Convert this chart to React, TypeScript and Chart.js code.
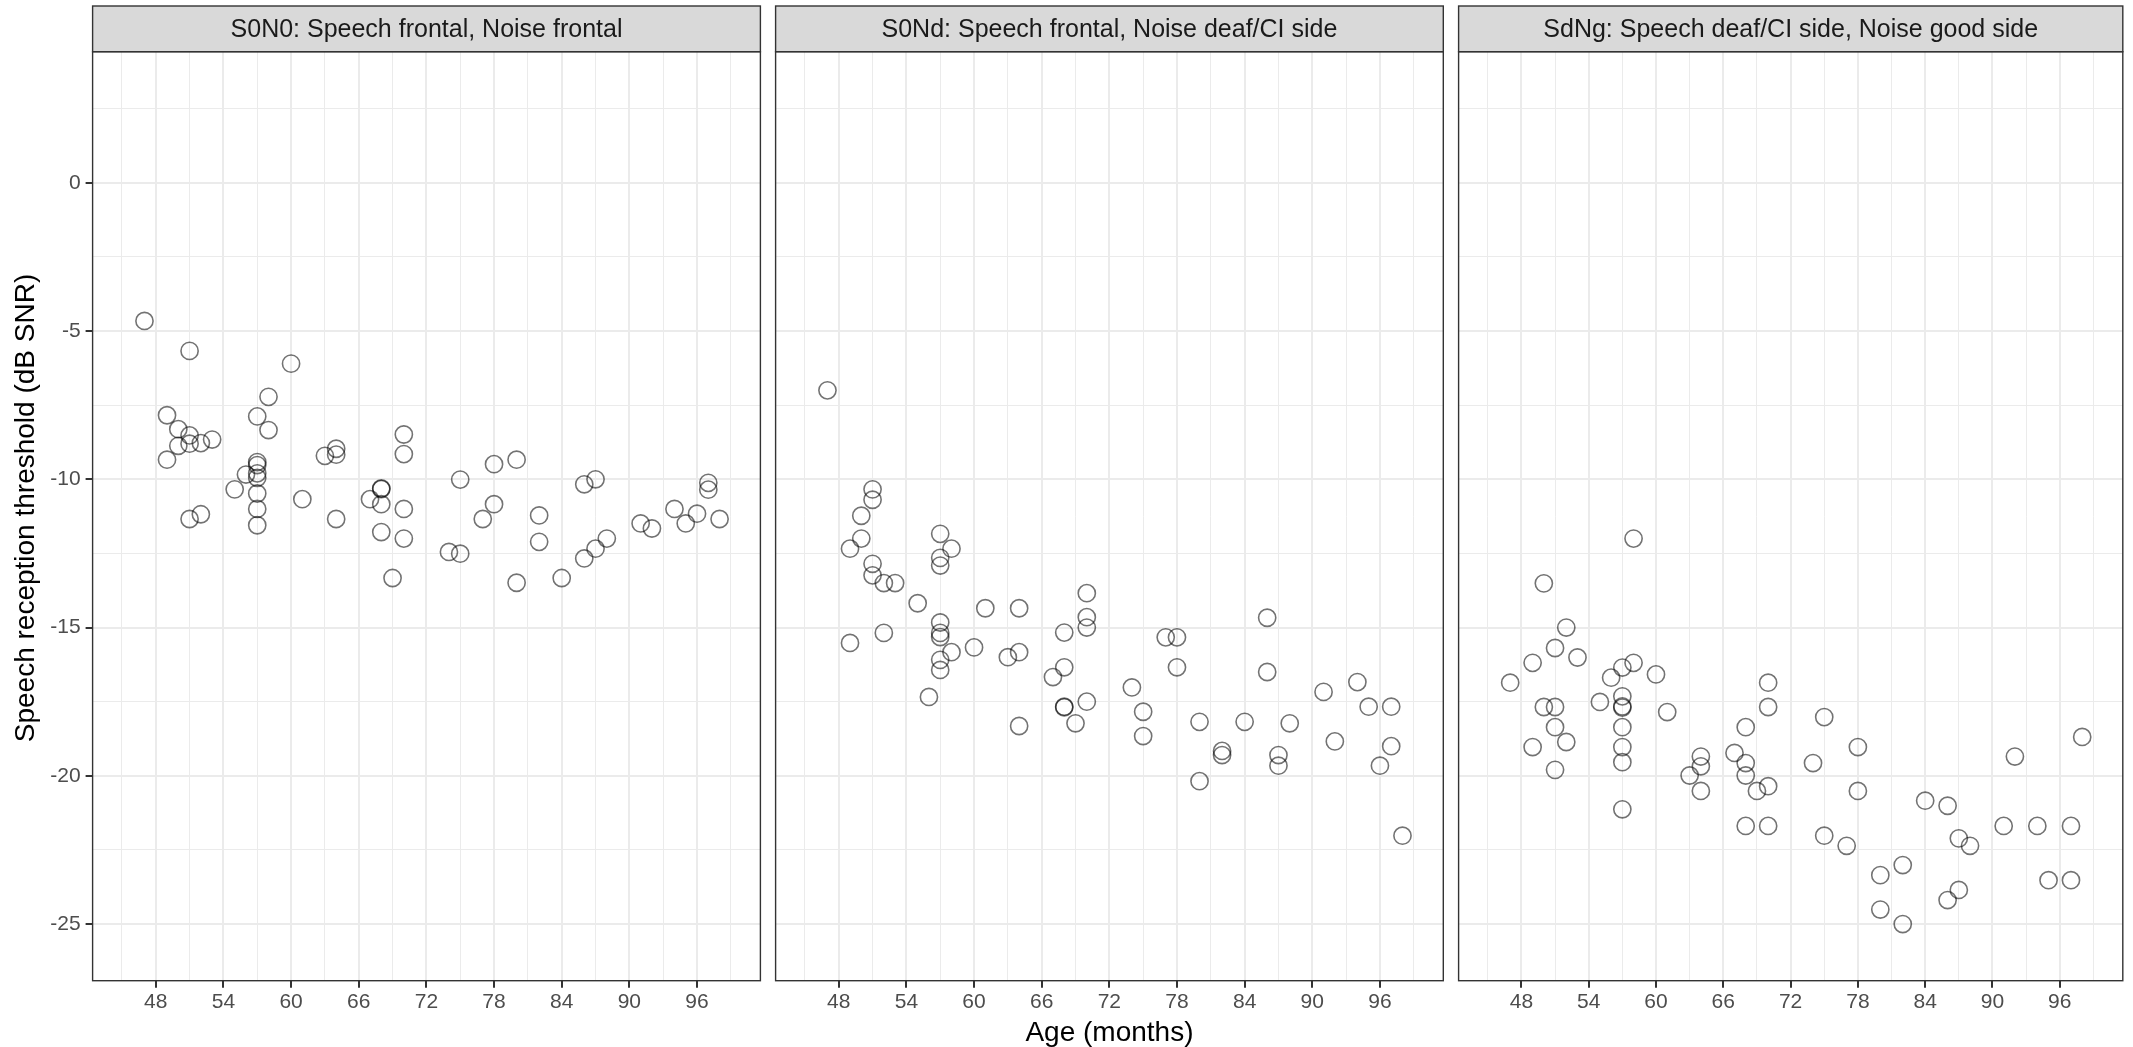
import React, { useEffect, useRef } from 'react';
import { Chart, registerables } from 'chart.js';

Chart.register(...registerables);

// ---------------- data ----------------
const panelTitles = [
  'S0N0: Speech frontal, Noise frontal',
  'S0Nd: Speech frontal, Noise deaf/CI side',
  'SdNg: Speech deaf/CI side, Noise good side',
];

const xMajorTicks = [48, 54, 60, 66, 72, 78, 84, 90, 96];
const xMinorTicks = [45, 51, 57, 63, 69, 75, 81, 87, 93, 99];
const yMajorTicks = [0, -5, -10, -15, -20, -25];
const yMinorTicks = [2.5, -2.5, -7.5, -12.5, -17.5, -22.5];

const xTitle = 'Age (months)';
const yTitle = 'Speech reception threshold (dB SNR)';

// S0N0
const s0n0Age = [
  47, 51, 60, 58, 49, 57, 58, 50, 51, 53, 52, 51, 50, 49, 64, 64, 63, 70, 70, 78,
  80, 57, 57, 57, 57, 57, 57, 57, 56, 55, 75, 86, 87, 97, 97, 68, 68, 67, 68, 61,
  70, 70, 68, 69, 64, 51, 52, 78, 77, 74, 75, 82, 82, 80, 84, 86, 87, 88, 91, 92,
  94, 95, 96, 98,
];
const s0n0Srt = [
  -4.66, -5.67, -6.1, -7.22, -7.84, -7.88, -8.34, -8.31, -8.52, -8.66, -8.78, -8.8, -8.87, -9.34, -8.97, -9.17, -9.21, -8.49, -9.15, -9.49,
  -9.34, -9.42, -9.52, -9.8, -9.95, -10.48, -11.0, -11.55, -9.84, -10.34, -10.01, -10.17, -10.0, -10.12, -10.35, -10.31, -10.33, -10.67, -10.84, -10.67,
  -11.0, -12.0, -11.78, -13.33, -11.34, -11.34, -11.18, -10.84, -11.34, -12.45, -12.51, -11.22, -12.11, -13.49, -13.33, -12.67, -12.34, -12.0, -11.49, -11.66,
  -11.0, -11.49, -11.16, -11.34,
];

// S0Nd
const s0ndAge = [
  47, 51, 51, 50, 50, 49, 57, 58, 57, 57, 51, 51, 52, 53, 55, 61, 64, 70, 70, 70,
  86, 57, 57, 57, 57, 57, 49, 52, 68, 77, 78, 58, 60, 63, 64, 78, 86, 68, 67, 74,
  94, 91, 95, 97, 56, 68, 68, 70, 75, 75, 64, 69, 80, 84, 88, 82, 82, 87, 87, 92,
  97, 96, 80, 98,
];
const s0ndSrt = [
  -7.0, -10.34, -10.69, -11.23, -12.0, -12.34, -11.84, -12.34, -12.65, -12.91, -12.85, -13.24, -13.5, -13.5, -14.18, -14.35, -14.35, -13.84, -14.65, -15.0,
  -14.67, -14.83, -15.18, -15.32, -16.09, -16.43, -15.52, -15.18, -15.17, -15.33, -15.33, -15.83, -15.67, -16.0, -15.83, -16.34, -16.5, -16.34, -16.67, -17.02,
  -16.84, -17.17, -17.67, -17.67, -17.34, -17.67, -17.69, -17.5, -17.84, -18.66, -18.32, -18.23, -18.18, -18.18, -18.23, -19.16, -19.3, -19.3, -19.66, -18.84,
  -19.0, -19.66, -20.18, -22.02,
];

// SdNg
const sdngAge = [
  58, 50, 52, 51, 53, 49, 58, 57, 56, 60, 47, 70, 57, 57, 57, 50, 51, 55, 61, 70,
  51, 57, 68, 75, 49, 52, 57, 78, 92, 98, 51, 57, 64, 64, 63, 67, 68, 68, 74, 57,
  64, 69, 70, 68, 70, 78, 75, 77, 84, 86, 91, 94, 97, 87, 88, 82, 80, 87, 86, 95,
  97, 80, 82,
];
const sdngSrt = [
  -12.0, -13.51, -15.0, -15.69, -16.01, -16.19, -16.19, -16.35, -16.69, -16.58, -16.86, -16.86, -17.32, -17.66, -17.7, -17.68, -17.68, -17.51, -17.85, -17.68,
  -18.36, -18.36, -18.36, -18.02, -19.03, -18.86, -19.03, -19.03, -19.35, -18.69, -19.8, -19.54, -19.35, -19.68, -19.99, -19.23, -19.57, -19.99, -19.57, -21.13,
  -20.51, -20.51, -20.35, -21.69, -21.69, -20.51, -22.02, -22.36, -20.84, -21.01, -21.69, -21.69, -21.69, -22.11, -22.36, -23.01, -23.35, -23.85, -24.19, -23.52,
  -23.52, -24.51, -25.0,
];

const panelAges = [s0n0Age, s0ndAge, sdngAge];
const panelSrts = [s0n0Srt, s0ndSrt, sdngSrt];

// ---------------- layout / style ----------------
const W = 2133;
const H = 1047;
const FONT = "'Liberation Sans', Arial, Helvetica, sans-serif";
const X_MIN = 42.4;
const X_MAX = 101.62;
const Y_MIN = -26.91;
const Y_MAX = 4.42;
const STRIP_TOP = 6;
const PANEL_TOP = 51.7;
const PANEL_BOTTOM = 980.7;
const PANEL_LEFT = [92.6, 775.6, 1458.6];
const PANEL_RIGHT = [760.4, 1443.3, 2126.7];
const Y_TITLE_X = 26;
const Y_TITLE_Y = 508;

const xTickVals = [...xMajorTicks, ...xMinorTicks].sort((a, b) => a - b);
const yTickVals = [...yMajorTicks, ...yMinorTicks].sort((a, b) => a - b);
const isXMajor = (v: number) => xMajorTicks.includes(v);
const isYMajor = (v: number) => yMajorTicks.includes(v);

function makeDecor(title: string, drawYTitle: boolean) {
  return {
    id: 'panelDecor',
    afterDraw(chart: any) {
      const { ctx, chartArea: a } = chart;
      ctx.save();
      ctx.fillStyle = '#d9d9d9';
      ctx.fillRect(a.left, STRIP_TOP, a.right - a.left, a.top - STRIP_TOP);
      ctx.strokeStyle = '#333333';
      ctx.lineWidth = 1.4;
      ctx.strokeRect(a.left, STRIP_TOP, a.right - a.left, a.top - STRIP_TOP);
      ctx.strokeRect(a.left, a.top, a.right - a.left, a.bottom - a.top);
      ctx.fillStyle = '#1a1a1a';
      ctx.font = `25px ${FONT}`;
      ctx.textAlign = 'center';
      ctx.textBaseline = 'middle';
      ctx.fillText(title, (a.left + a.right) / 2, (STRIP_TOP + a.top) / 2 + 1);
      if (drawYTitle) {
        ctx.translate(Y_TITLE_X, Y_TITLE_Y);
        ctx.rotate(-Math.PI / 2);
        ctx.fillStyle = '#000000';
        ctx.font = `28px ${FONT}`;
        ctx.fillText(yTitle, 0, 0);
      }
      ctx.restore();
    },
  };
}

function Panel({ index }: { index: number }) {
  const ref = useRef<HTMLCanvasElement | null>(null);
  useEffect(() => {
    if (!ref.current) return;
    const ages = panelAges[index];
    const srts = panelSrts[index];
    const points = ages.map((a, i) => ({ x: a, y: srts[i] }));
    const first = index === 0;
    const chart = new Chart(ref.current, {
      type: 'scatter',
      data: {
        datasets: [
          {
            data: points,
            pointRadius: 8.6,
            pointHoverRadius: 8.6,
            pointBorderWidth: 1.6,
            borderColor: 'rgba(0,0,0,0.55)',
            backgroundColor: 'rgba(0,0,0,0)',
            showLine: false,
          },
        ],
      },
      options: {
        animation: false,
        responsive: false,
        devicePixelRatio: 1,
        events: [],
        layout: {
          padding: {
            left: first ? 0 : PANEL_LEFT[index],
            right: W - PANEL_RIGHT[index],
            top: PANEL_TOP,
            bottom: 0,
          },
        },
        plugins: {
          legend: { display: false },
          tooltip: { enabled: false },
        },
        scales: {
          x: {
            type: 'linear',
            position: 'bottom',
            min: X_MIN,
            max: X_MAX,
            afterBuildTicks: (s: any) => {
              s.ticks = xTickVals.map((v) => ({ value: v }));
            },
            afterFit: (s: any) => {
              s.height = H - PANEL_BOTTOM;
            },
            ticks: {
              autoSkip: false,
              maxRotation: 0,
              minRotation: 0,
              padding: 2,
              color: '#4d4d4d',
              font: { family: FONT, size: 21 },
              callback: (v: any) => (isXMajor(Number(v)) ? String(v) : ''),
            },
            grid: {
              color: '#ebebeb',
              lineWidth: (c: any) => (c.tick && isXMajor(c.tick.value) ? 2 : 1),
              drawTicks: true,
              tickLength: 7,
              tickWidth: 2,
              tickColor: (c: any) => (c.tick && isXMajor(c.tick.value) ? '#333333' : 'rgba(0,0,0,0)'),
            },
            border: { display: false },
            title: {
              display: index === 1,
              text: xTitle,
              color: '#000000',
              font: { family: FONT, size: 28, lineHeight: 1 },
              padding: { top: 0, bottom: 0 },
            },
          },
          y: {
            type: 'linear',
            position: 'left',
            min: Y_MIN,
            max: Y_MAX,
            afterBuildTicks: (s: any) => {
              s.ticks = yTickVals.map((v) => ({ value: v }));
            },
            afterFit: (s: any) => {
              s.width = first ? PANEL_LEFT[0] : 0;
            },
            ticks: {
              display: first,
              autoSkip: false,
              padding: 5,
              color: '#4d4d4d',
              font: { family: FONT, size: 21 },
              callback: (v: any) => (isYMajor(Number(v)) ? String(v) : ''),
            },
            grid: {
              color: '#ebebeb',
              lineWidth: (c: any) => (c.tick && isYMajor(c.tick.value) ? 2 : 1),
              drawTicks: first,
              tickLength: 7,
              tickWidth: 2,
              tickColor: (c: any) => (c.tick && isYMajor(c.tick.value) ? '#333333' : 'rgba(0,0,0,0)'),
            },
            border: { display: false },
            title: { display: false },
          },
        },
      } as any,
      plugins: [makeDecor(panelTitles[index], first)],
    });
    return () => chart.destroy();
  }, [index]);
  return (
    <canvas
      ref={ref}
      width={W}
      height={H}
      style={{ position: 'absolute', left: 0, top: 0, width: W, height: H }}
    />
  );
}

export default function App() {
  return (
    <div style={{ position: 'absolute', left: 0, top: 0, width: W, height: H, background: '#ffffff', overflow: 'hidden' }}>
      {panelTitles.map((_, i) => (
        <Panel key={i} index={i} />
      ))}
    </div>
  );
}
